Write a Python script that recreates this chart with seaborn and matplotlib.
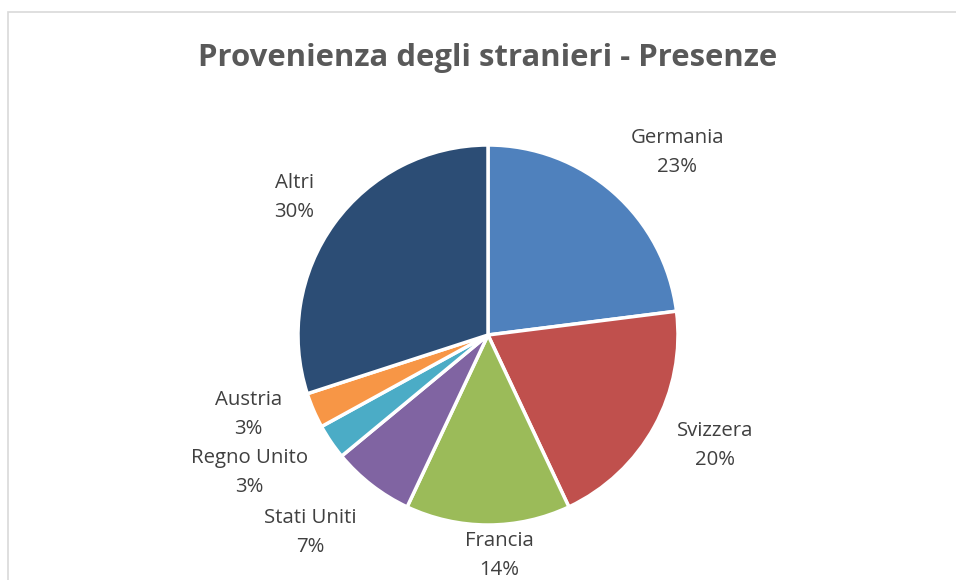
import seaborn as sns
import matplotlib.pyplot as plt
import numpy as np
from matplotlib.patches import Rectangle

# Data
paesi = ['Germania', 'Svizzera', 'Francia', 'Stati Uniti', 'Regno Unito', 'Austria', 'Altri']
quote = [23, 20, 14, 7, 3, 3, 30]
colori = ['#4F81BD', '#C0504D', '#9BBB59', '#8064A2', '#4BACC6', '#F79646', '#2C4D75']

# label placement (Excel "best fit"): radial distance in radii, angle shift in degrees
dist_label = [1.385, 1.33, 1.16, 1.40, 1.45, 1.33, 1.25]
shift_label = [-4.6, 2.8, 3.0, -4.2, -4.2, -5.1, 0.6]

sns.set_theme(style='white')
plt.rcParams['font.family'] = ['Open Sans', 'DejaVu Sans']

fig = plt.figure(figsize=(9.56, 5.8), dpi=100)
ax = fig.add_axes([0, 0, 1, 1])

wedges, _ = ax.pie(quote, colors=sns.color_palette(colori), startangle=90,
                   counterclock=False, radius=1,
                   wedgeprops=dict(edgecolor='white', linewidth=2.5))

# pie resets the limits, so set them afterwards (1 radius = 190 px)
R = 190.0
ax.set_xlim(-488 / R, (956 - 488) / R)
ax.set_ylim(-(580 - 335) / R, 335 / R)
ax.axis('off')

for w, nome, q, d, s in zip(wedges, paesi, quote, dist_label, shift_label):
    ang = np.deg2rad((w.theta1 + w.theta2) / 2 + s)
    ax.text(d * np.cos(ang), d * np.sin(ang), f'{nome}\n{q}%',
            ha='center', va='center', fontsize=14.7, color='#404040',
            linespacing=1.6)

fig.text(488 / 956, 1 - 58 / 580, 'Provenienza degli stranieri - Presenze',
         ha='center', va='center', fontsize=22.4, fontweight='bold', color='#595959')

# chart frame (partly outside the image, like the original)
fig.patches.append(Rectangle((8 / 956, -0.1), 1.2, 1 - 12 / 580 + 0.1,
                             transform=fig.transFigure, fill=False,
                             edgecolor='#D9D9D9', linewidth=1.2))

fig.savefig('out.png', dpi=100)
